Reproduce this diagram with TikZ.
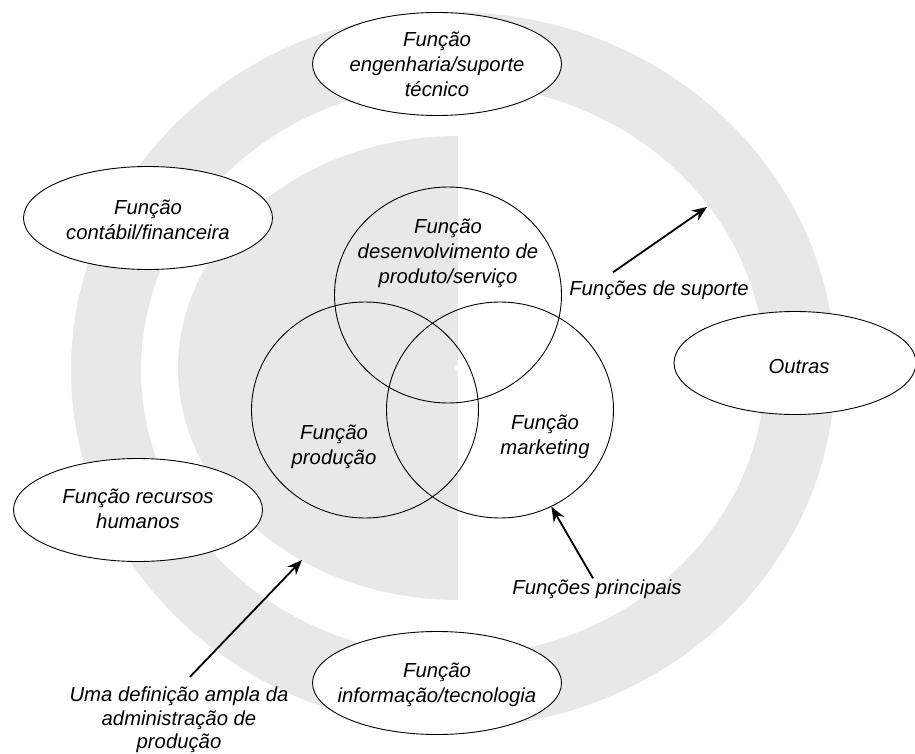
\documentclass[tikz,border=0pt]{standalone}
\usepackage{fontspec}
\setmainfont{Liberation Sans}
\usetikzlibrary{shapes.geometric,arrows.meta}
\definecolor{ringgray}{RGB}{232,232,232}
\begin{document}
\begin{tikzpicture}[x=1pt,y=-1pt,
  txt/.style={font=\fontsize{20.3}{25}\selectfont\itshape, align=center, inner sep=0pt},
  funcshape/.style={ellipse, draw=black, line width=0.9pt, fill=white, inner sep=0pt, minimum width=249pt, minimum height=103pt},
  venn/.style={ellipse, draw=black, line width=0.9pt, inner sep=0pt, minimum width=227pt, minimum height=216pt},
  arr/.style={-{Stealth[length=15pt,width=12pt]}, line width=1.8pt}]
\useasboundingbox (0,0) rectangle (915,754);
\fill[white] (0,0) rectangle (915,754);
% outer ring
\fill[ringgray, even odd rule] (453,370) ellipse [x radius=382, y radius=358]
                               (453,370) ellipse [x radius=312, y radius=286];
% inner half disk
\fill[ringgray] (458,600) arc[start angle=90, end angle=270, x radius=280, y radius=232] -- cycle;
\fill[white] (458,368) circle[radius=3];
% Venn circles
\node[venn] (dev) at (448,295) {};
\node[venn] (prod) at (365,410) {};
\node[venn] (mkt) at (500,410) {};
\node[txt] (devt) at (448,253) {Função\\desenvolvimento de\\produto/serviço};
\node[txt] (prodt) at (334,447) {Função\\produção};
\node[txt] (mktt) at (545,437) {Função\\marketing};
% outer function ellipses
\node[funcshape] (eng) at (437,64) {};
\node[txt] (engt) at (eng) {Função\\engenharia/suporte\\técnico};
\node[funcshape] (cont) at (148,218) {};
\node[txt] (contt) at (148,220) {Função\\contábil/financeira};
\node[funcshape] (rh) at (138,510) {};
\node[txt] (rht) at (138,509) {Função recursos\\humanos};
\node[funcshape] (info) at (437,683) {};
\node[txt] (infot) at (437,685) {Função\\informação/tecnologia};
\node[funcshape, minimum width=242pt] (outr) at (795,363) {};
\node[txt] (outrt) at (799,367) {Outras};
% labels and arrows
\node[txt] (sup) at (659,290) {Funções de suporte};
\coordinate (suptip) at (707,207);
\draw[arr] ([xshift=-46pt,yshift=8pt]sup.north) -- (suptip);
\node[txt] (prin) at (597,589) {Funções principais};
\draw[arr] ([xshift=-4pt,yshift=1pt]prin.north) -- (mkt.-62);
\node[txt, font=\fontsize{20.3}{23.5}\selectfont\itshape] (uma) at (179,720) {Uma definição ampla da\\administração de\\produção};
\coordinate (umatip) at (302,560);
\draw[arr] ([xshift=11pt,yshift=10pt]uma.north) -- (umatip);
\end{tikzpicture}
\end{document}
